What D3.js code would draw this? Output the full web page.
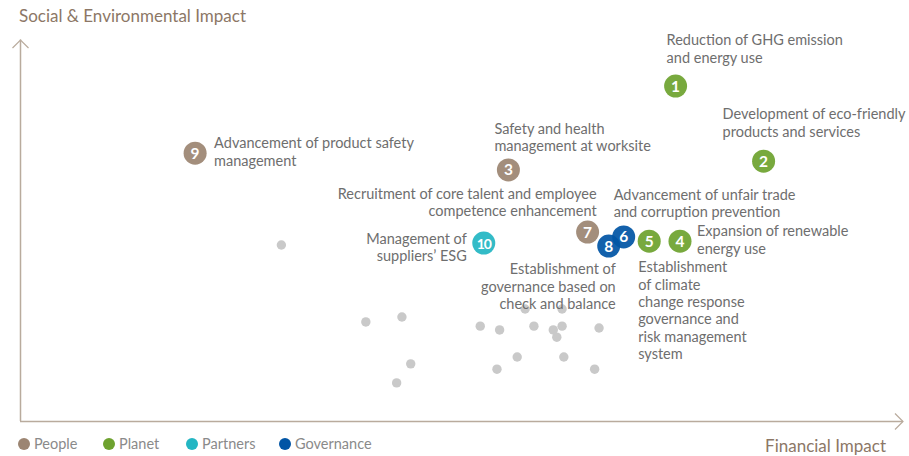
<!DOCTYPE html>
<html>
<head>
<meta charset="utf-8">
<script src="https://cdn.jsdelivr.net/npm/d3@7"></script>
<style>
    body { margin: 0; background: #fff; }
    svg { display: block; font-family: Lato, "Noto Sans", sans-serif; }
    .label { fill: #6e6e6e; font-size: 14.5px; }
    .axis-title { fill: #8c7766; font-size: 17px; }
    .legend-text { fill: #8a8a8a; font-size: 14.5px; }
</style>
</head>
<body>
<div id="chart"></div>
<script>
// Materiality issues (x: financial impact, y: social & environmental impact, 0-100)
var issueIds = [1, 2, 3, 4, 5, 6, 7, 8, 9, 10];
var issueGroups = ["Planet", "Planet", "People", "Planet", "Planet", "Governance", "People", "Governance", "People", "Partners"];
var issueX = [74.5, 84.5, 55.5, 75.0, 71.5, 68.6, 64.5, 66.9, 19.9, 52.7];
var issueY = [87.9, 68.2, 65.9, 47.2, 47.2, 48.3, 49.6, 45.9, 70.3, 46.7];
var issueLabels = [
    ["Reduction of GHG emission", "and energy use"],
    ["Development of eco-friendly", "products and services"],
    ["Safety and health", "management at worksite"],
    ["Expansion of renewable", "energy use"],
    ["Establishment", "of climate", "change response", "governance and", "risk management", "system"],
    ["Advancement of unfair trade", "and corruption prevention"],
    ["Recruitment of core talent and employee", "competence enhancement"],
    ["Establishment of", "governance based on", "check and balance"],
    ["Advancement of product safety", "management"],
    ["Management of", "suppliers\u2019 ESG"]
];

// Other (non-material) issues
var otherX = [29.7, 39.3, 43.4, 44.4, 42.8, 52.3, 54.5, 57.4, 58.4, 61.6, 61.6, 60.6, 61.0, 65.8, 56.5, 61.8, 54.2, 65.3];
var otherY = [46.2, 26.0, 27.3, 15.0, 10.0, 24.9, 23.9, 29.4, 24.9, 29.4, 24.9, 23.9, 22.0, 24.4, 16.8, 16.8, 13.6, 13.6];

var groups = ["People", "Planet", "Partners", "Governance"];
var groupColors = ["#9c8572", "#6ea22f", "#24b6c3", "#0155a5"];

var width = 909, height = 456;
var svg = d3.select("#chart").append("svg")
    .attr("width", width)
    .attr("height", height);

var x = d3.scaleLinear().domain([0, 100]).range([20, 900]);
var y = d3.scaleLinear().domain([0, 100]).range([421, 40]);
var color = d3.scaleOrdinal().domain(groups).range(groupColors);

// Axes
var axisColor = "#b9ab9d";
svg.append("path")
    .attr("d", "M" + x(0) + "," + (y(0) + 0.5) + "H903")
    .attr("fill", "none").attr("stroke", axisColor).attr("stroke-width", 1.5);
svg.append("path")
    .attr("d", "M" + (x(0) + 0.5) + "," + y(0) + "V39.5")
    .attr("fill", "none").attr("stroke", axisColor).attr("stroke-width", 1.5);
svg.append("path")
    .attr("d", "M12.5,48L20.5,40L28.5,48")
    .attr("fill", "none").attr("stroke", axisColor).attr("stroke-width", 1.2);
svg.append("path")
    .attr("d", "M895,413.5L903,421.5L895,429.5")
    .attr("fill", "none").attr("stroke", axisColor).attr("stroke-width", 1.2);

svg.append("text")
    .attr("class", "axis-title")
    .attr("x", 19).attr("y", 22)
    .text("Social & Environmental Impact");
svg.append("text")
    .attr("class", "axis-title")
    .attr("x", 886).attr("y", 452)
    .style("text-anchor", "end")
    .text("Financial Impact");

// Other issues
svg.selectAll(".other")
    .data(otherX)
    .enter()
    .append("circle")
    .attr("class", "other")
    .attr("cx", function (d) { return x(d); })
    .attr("cy", function (d, i) { return y(otherY[i]); })
    .attr("r", 4.7)
    .attr("fill", "#c9c9c9");

// Label layout relative to bubble: [dx, dy of first line, anchor]
var labelLayout = {
    1: [-9, -46, "start"],
    2: [-41, -47, "start"],
    3: [-14, -41, "start"],
    4: [17, -10, "start"],
    5: [-11, 26, "start"],
    6: [-10, -42, "start"],
    7: [9, -38, "end"],
    8: [7, 23, "end"],
    9: [19, -10, "start"],
    10: [-17, -4, "end"]
};
var lineHeight = 17.4;

var issues = issueIds.map(function (id, i) {
    return { id: id, group: issueGroups[i], X: issueX[i], Y: issueY[i], lines: issueLabels[i] };
});

// Labels
issues.forEach(function (d) {
    var lay = labelLayout[d.id];
    var t = svg.append("text")
        .attr("class", "label")
        .style("text-anchor", lay[2]);
    d.lines.forEach(function (line, k) {
        t.append("tspan")
            .attr("x", x(d.X) + lay[0])
            .attr("y", y(d.Y) + lay[1] + k * lineHeight + 5)
            .text(line);
    });
});

// Bubbles
var bubble = svg.selectAll(".issue")
    .data(issues)
    .enter()
    .append("g")
    .attr("class", "issue")
    .attr("transform", function (d) { return "translate(" + x(d.X) + "," + y(d.Y) + ")"; });
bubble.append("circle")
    .attr("r", 11.5)
    .attr("fill", function (d) { return color(d.group); })
    .attr("fill-opacity", 0.93);
bubble.append("text")
    .attr("y", 5.5)
    .style("text-anchor", "middle")
    .style("font-size", d => d.id === 10 ? "14px" : "15.5px")
    .style("font-weight", "bold")
    .style("letter-spacing", d => d.id === 10 ? "-1px" : "0")
    .attr("fill", "#fff")
    .text(function (d) { return d.id; });

// Legend
var legendX = [24, 109, 192, 285];
var legend = svg.selectAll(".legend")
    .data(groups)
    .enter()
    .append("g")
    .attr("class", "legend")
    .attr("transform", function (d, i) { return "translate(" + legendX[i] + ",444)"; });
legend.append("circle")
    .attr("r", 6)
    .attr("fill", function (d) { return color(d); });
legend.append("text")
    .attr("class", "legend-text")
    .attr("x", 10)
    .attr("y", 5)
    .text(function (d) { return d; });
</script>
</body>
</html>
